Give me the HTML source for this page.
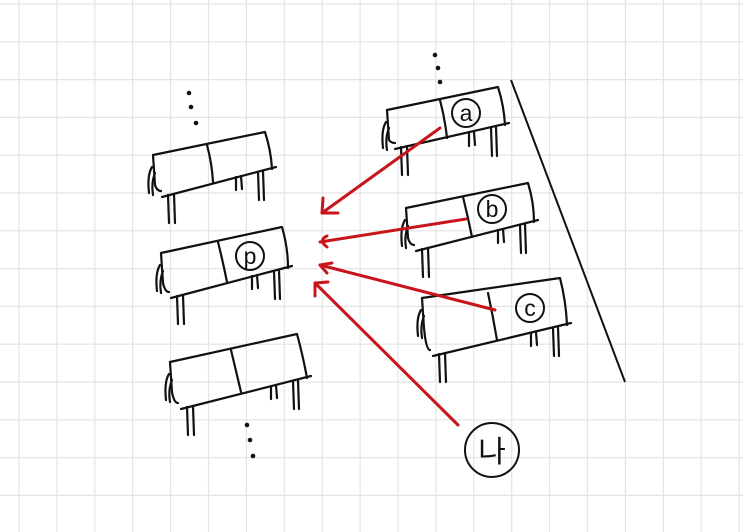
<!DOCTYPE html>
<html><head><meta charset="utf-8"><style>
html,body{margin:0;padding:0;background:#fff;}
svg{display:block;}
</style></head><body>
<svg id="s" width="743" height="532" viewBox="0 0 743 532" xmlns="http://www.w3.org/2000/svg">
<g id="grid" stroke="#e4e4e4" stroke-width="1.2"></g>
<g id="draw" stroke="#111" stroke-width="2.2" fill="none" stroke-linecap="round" stroke-linejoin="round"></g>
<g fill="#111">
<circle cx="189" cy="93" r="2.3"/><circle cx="191" cy="107" r="2.3"/><circle cx="196" cy="123" r="2.3"/>
<circle cx="247" cy="425" r="2.3"/><circle cx="250" cy="440" r="2.3"/><circle cx="253" cy="456" r="2.3"/>
<circle cx="435" cy="55" r="2.3"/><circle cx="438" cy="68" r="2.3"/><circle cx="440" cy="82" r="2.3"/>
</g>
<g stroke="#111" stroke-width="2" fill="none">
<circle cx="250" cy="256" r="14"/>
<circle cx="466" cy="113" r="14"/>
<circle cx="492" cy="209" r="14"/>
<circle cx="530" cy="308" r="14"/>
<circle cx="492" cy="450" r="27"/>
<line x1="511" y1="80" x2="625" y2="382"/>
</g>
<g font-family="Liberation Sans, sans-serif" font-size="23" fill="#111" text-anchor="middle">
<text x="250" y="264">p</text>
<text x="466" y="121">a</text>
<text x="492" y="217">b</text>
<text x="530" y="316">c</text>
<text x="492" y="462" font-family="Liberation Sans, 'Noto Sans CJK KR', sans-serif" font-size="30">나</text>
</g>
<g id="red" stroke="#c8141a" stroke-width="3" fill="none" stroke-linecap="round" stroke-linejoin="round">
<line x1="440" y1="128" x2="322" y2="213"/>
<polyline points="323,198 322,213 338,213"/>
<line x1="466" y1="219" x2="320" y2="242"/>
<path d="M327,236 Q318,240 327,247"/>
<line x1="495" y1="310" x2="320" y2="265"/>
<polyline points="332,263 320,265 327,273"/>
<line x1="458" y1="425" x2="315" y2="283"/>
<polyline points="328,282 315,283 315,296"/>
</g>
</svg>
<script>
var NS="http://www.w3.org/2000/svg";
var g=document.getElementById('grid');
function ln(p,x1,y1,x2,y2){var l=document.createElementNS(NS,'line');l.setAttribute('x1',x1);l.setAttribute('y1',y1);l.setAttribute('x2',x2);l.setAttribute('y2',y2);p.appendChild(l);}
for(var x=19;x<743;x+=37.9)ln(g,x,0,x,532);
for(var y=4;y<532;y+=37.8)ln(g,0,y,743,y);
var d=document.getElementById('draw');
function pa(p,s){var e=document.createElementNS(NS,'path');e.setAttribute('d',s);p.appendChild(e);}
var boxes=[
[[153,155],[265,132],[272,169],[162,197],[207,145],[213,182]],
[[161,253],[282,227],[288,268],[171,298],[218,242],[227,282]],
[[170,362],[297,334],[307,378],[181,409],[231,350],[241,392]],
[[387,110],[498,87],[505,125],[395,149],[440,100],[447,138]],
[[406,208],[528,183],[534,222],[416,251],[463,197],[472,237]],
[[422,298],[560,278],[567,325],[433,356],[488,293],[497,340]]];
boxes.forEach(function(b){
var TL=b[0],TR=b[1],BR=b[2],BL=b[3];
pa(d,'M'+TL+' L'+TR+' Q'+(TR[0]+6)+','+((TR[1]+BR[1])/2)+' '+BR);
pa(d,'M'+TL+' L'+(TL[0]+2)+','+(TL[1]+30)+' Q'+(TL[0]+4)+','+(BL[1]-6)+' '+(TL[0]+8)+','+(BL[1]-6));
pa(d,'M'+BL+' L'+(BR[0]+4)+','+(BR[1]-2));
pa(d,'M'+b[4]+' Q'+(b[4][0]+5)+','+((b[4][1]+b[5][1])/2)+' '+b[5]);
pa(d,'M'+(TL[0]-1)+','+(TL[1]+12)+' Q'+(TL[0]-6)+','+(TL[1]+20)+' '+(TL[0]-4)+','+(TL[1]+38));
pa(d,'M'+(TL[0]+2)+','+(TL[1]+18)+' Q'+(TL[0]-2)+','+(TL[1]+28)+' '+(TL[0])+','+(TL[1]+40));
var bx=BL[0]+6,by=BL[1]-2;
ln(d,bx,by,bx+1,by+28);ln(d,bx+6,by-1,bx+7,by+28);
var rx=BR[0]-14,ry=BR[1]+3;
ln(d,rx,ry,rx+1,ry+28);ln(d,rx+5,ry-1,rx+6,ry+28);
ln(d,rx-22,ry+5,rx-22,ry+18);ln(d,rx-17,ry+4,rx-16,ry+17);
});
</script>
</body></html>
